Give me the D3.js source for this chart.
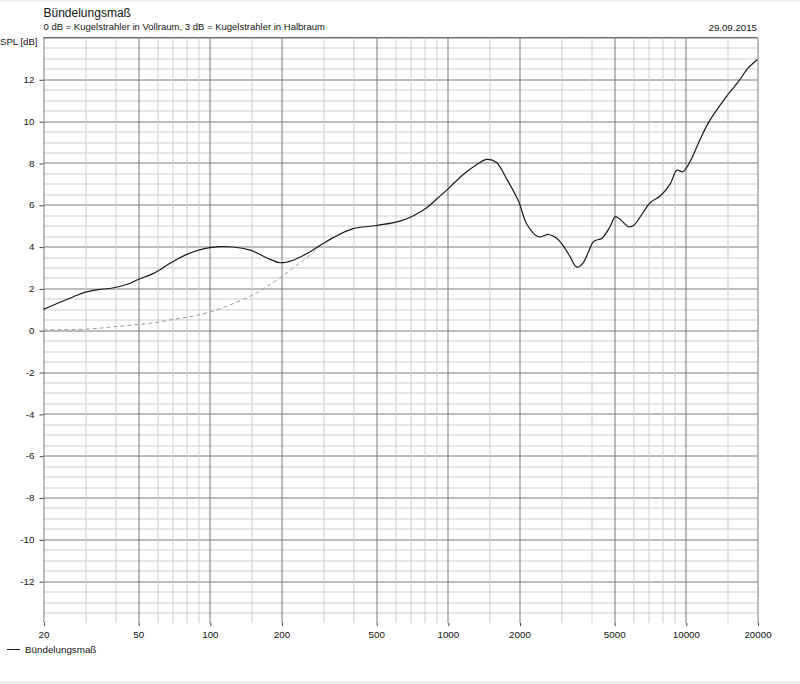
<!DOCTYPE html>
<html>
<head>
<meta charset="utf-8">
<script src="https://cdn.jsdelivr.net/npm/d3@7"></script>
<style>
    html, body { margin: 0; padding: 0; background: #fff; }
    text { font-family: "Liberation Sans", Arial, sans-serif; fill: #111; }
</style>
</head>
<body>
<div id="chart"></div>
<script>
// measured curve (Hz / dB)
const freq = [20, 26.7, 30, 34, 39, 45, 50, 58, 68, 80, 100, 125, 148, 173, 197, 224, 255, 290,
    330, 400, 500, 630, 720, 815, 900, 1000, 1160, 1325, 1460, 1600, 1770, 1980, 2150, 2400,
    2650, 2850, 3050, 3250, 3480, 3690, 3900, 4100, 4440, 4800, 5050, 5300, 5750, 6030, 7080,
    7800, 8600, 9170, 9720, 10400, 11500, 12450, 13700, 14850, 16900, 18050, 20000];
const spl = [1.0, 1.6, 1.82, 1.94, 2.02, 2.2, 2.43, 2.72, 3.2, 3.63, 3.95, 3.98, 3.83, 3.47, 3.23, 3.35, 3.66, 4.05,
    4.43, 4.86, 5.01, 5.22, 5.49, 5.86, 6.29, 6.75, 7.45, 7.93, 8.17, 8.02, 7.22, 6.18, 5.06, 4.47,
    4.58, 4.42, 4.05, 3.55, 3.02, 3.2, 3.75, 4.25, 4.4, 4.95, 5.43, 5.3, 4.95, 5.01, 6.1,
    6.42, 7.0, 7.66, 7.58, 8.05, 9.15, 9.93, 10.65, 11.2, 12.0, 12.48, 12.95];

// dashed reference curve
const freqRef = [20, 30, 40.7, 50.7, 60, 70.4, 82.7, 100, 125.7, 152.5, 173, 197.5, 224.6, 255, 290];
const splRef = [0.02, 0.05, 0.18, 0.28, 0.38, 0.52, 0.65, 0.87, 1.28, 1.71, 2.08, 2.51, 2.99, 3.47, 4.0];

const xTicks = [20, 50, 100, 200, 500, 1000, 2000, 5000, 10000, 20000];
const yTicks = [-12, -10, -8, -6, -4, -2, 0, 2, 4, 6, 8, 10, 12];
const gridSteps = [1, 1.5, 2, 3, 4, 5, 6, 7, 8, 9];

const title = 'Bündelungsmaß';
const subtitle = '0 dB = Kugelstrahler in Vollraum, 3 dB = Kugelstrahler in Halbraum';
const dateLabel = '29.09.2015';

const width = 800;
const height = 684;
const margin = {top: 37.5, right: 42.5, bottom: 61, left: 43.5};
const chartWidth = width - margin.left - margin.right;
const chartHeight = height - margin.top - margin.bottom;

const svg = d3.select('#chart')
  .append('svg')
    .attr('width', width)
    .attr('height', height);

// window bands top and bottom
svg.append('rect').attr('x', 0).attr('y', 0).attr('width', width).attr('height', 2).attr('fill', '#eeeeee');
svg.append('rect').attr('x', 0).attr('y', height - 3).attr('width', width).attr('height', 3).attr('fill', '#eeeeee');

const xScale = d3.scaleLog()
    .domain([20, 20000])
    .range([0, chartWidth]);

const yScale = d3.scaleLinear()
    .domain([-14, 14])
    .range([chartHeight, 0]);

const g = svg.append('g')
    .attr('transform', `translate(${margin.left},${margin.top})`);

// grid
const vLines = [];
[1, 10, 100, 1000, 10000].forEach(d => gridSteps.forEach(s => {
    const f = d * s;
    if (f >= 20 && f <= 20000) vLines.push(f);
}));
const hLines = d3.range(-27, 29).map(i => i * 0.5);

g.append('g').classed('h-grid', true)
  .selectAll('line')
  .data(hLines)
  .join('line')
    .attr('x1', 0)
    .attr('x2', chartWidth)
    .attr('y1', d => Math.round(yScale(d)) + 0.5)
    .attr('y2', d => Math.round(yScale(d)) + 0.5)
    .attr('stroke', d => d % 2 === 0 ? '#7a7a7a' : '#cdcdcd')
    .attr('stroke-width', 1);

g.append('g').classed('v-grid', true)
  .selectAll('line')
  .data(vLines)
  .join('line')
    .attr('x1', d => Math.round(xScale(d)) + 0.5)
    .attr('x2', d => Math.round(xScale(d)) + 0.5)
    .attr('y1', 0)
    .attr('y2', chartHeight)
    .attr('stroke', d => xTicks.includes(d) ? '#7a7a7a' : '#cdcdcd')
    .attr('stroke-width', 1);

// top border
g.append('line')
    .attr('x1', 0).attr('x2', chartWidth)
    .attr('y1', 0).attr('y2', 0)
    .attr('stroke', '#6a6a6a');

// axes
const xAxis = d3.axisBottom(xScale)
    .tickValues(xTicks)
    .tickFormat(d => String(d))
    .tickSize(3)
    .tickPadding(5);

const yAxis = d3.axisLeft(yScale)
    .tickValues(yTicks)
    .tickFormat(d => String(d))
    .tickSize(4)
    .tickPadding(5);

g.append('g')
    .attr('transform', `translate(0,${chartHeight})`)
    .call(xAxis)
    .call(a => a.select('.domain').remove())
    .call(a => a.selectAll('.tick line').attr('stroke', '#444').attr('transform', 'translate(0.5,0)'))
    .call(a => a.selectAll('.tick text').attr('font-size', '9.8px').attr('font-family', null).attr('fill', '#111'));

g.append('g')
    .call(yAxis)
    .call(a => a.select('.domain').remove())
    .call(a => a.selectAll('.tick line').attr('stroke', '#444').attr('transform', 'translate(0,0.5)'))
    .call(a => a.selectAll('.tick text').attr('font-size', '9.8px').attr('font-family', null).attr('fill', '#111'));

// curves
const line = d3.line()
    .x(d => xScale(d[0]))
    .y(d => yScale(d[1]))
    .curve(d3.curveCatmullRom.alpha(0.5));

g.append('path')
    .datum(d3.zip(freqRef, splRef))
    .attr('d', line)
    .attr('fill', 'none')
    .attr('stroke', '#9a9a9a')
    .attr('stroke-width', 1)
    .attr('stroke-dasharray', '4,3');

g.append('path')
    .datum(d3.zip(freq, spl))
    .attr('d', line)
    .attr('fill', 'none')
    .attr('stroke', '#1a1a1a')
    .attr('stroke-width', 1.2);

// texts
svg.append('text')
    .attr('x', 43.5).attr('y', 17.3)
    .attr('font-size', '12px')
    .text(title);

svg.append('text')
    .attr('x', 43.5).attr('y', 30)
    .attr('font-size', '9.5px')
    .text(subtitle);

svg.append('text')
    .attr('x', 757).attr('y', 30.5)
    .attr('text-anchor', 'end')
    .attr('font-size', '9.7px')
    .text(dateLabel);

svg.append('text')
    .attr('x', 37.5).attr('y', 44.5)
    .attr('text-anchor', 'end')
    .attr('font-size', '9.6px')
    .text('SPL [dB]');

// legend
svg.append('line')
    .attr('x1', 7).attr('x2', 20)
    .attr('y1', 649.5).attr('y2', 649.5)
    .attr('stroke', '#1a1a1a');

svg.append('text')
    .attr('x', 25).attr('y', 653)
    .attr('font-size', '9.8px')
    .text(title);
</script>
</body>
</html>
